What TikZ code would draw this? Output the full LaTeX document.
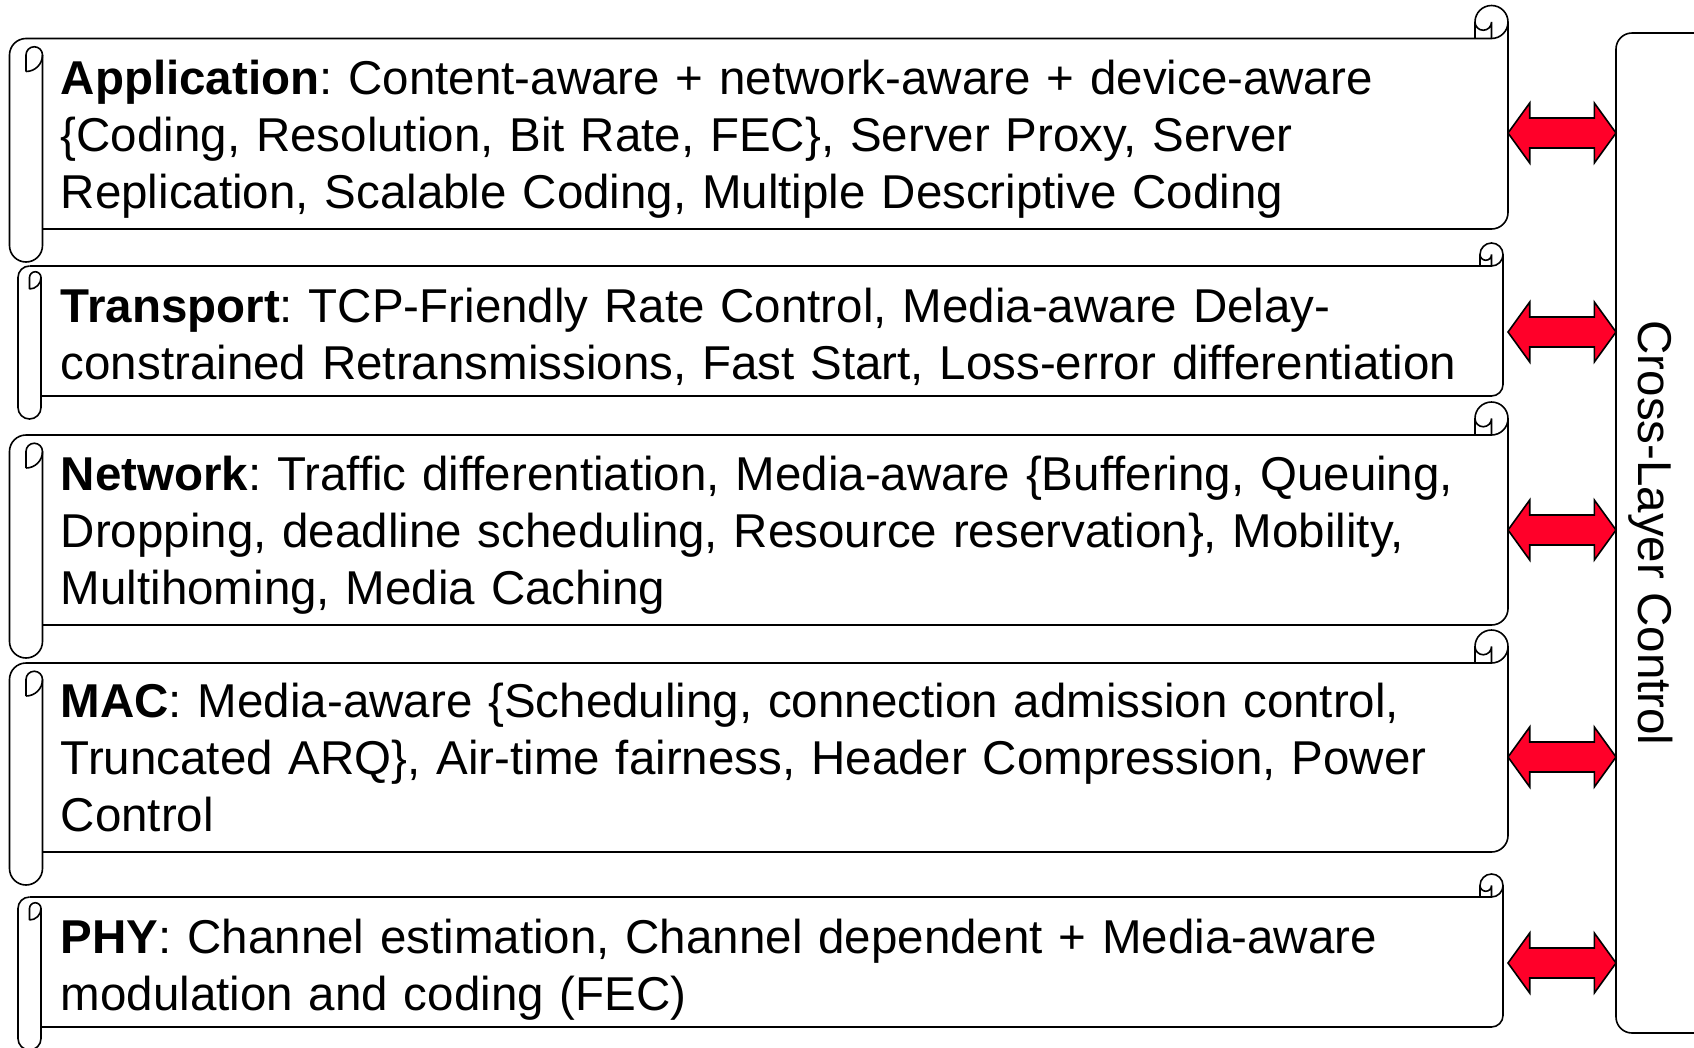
\documentclass[tikz,border=0pt]{standalone}
\usepackage{fontspec}
\setmainfont{Liberation Sans}
\usetikzlibrary{calc}

\definecolor{arrowred}{RGB}{255,0,41}

% scroll shape: left x, top y, right x, bottom y, roll width
\newcommand{\layerscroll}[5]{%
  \pgfmathsetmacro{\scrh}{#5/2}
  \pgfmathsetmacro{\scrq}{#5/4}
  %Shape: body with top right curl
  \draw ({#1+#5},#4) -- ({#3-\scrh},#4) arc[start angle=90,end angle=0,radius=\scrh] -- (#3,{#2-\scrh}) arc[start angle=0,end angle=-180,radius=\scrh] -- ({#3-#5},#2) ;
  \draw ({#1+\scrh},#2) -- ({#3-\scrh},#2) arc[start angle=90,end angle=0,radius=\scrh] ;
  \draw ({#3-#5},{#2-\scrh}) arc[start angle=180,end angle=0,radius=\scrq] -- ({#3-\scrh},#2) ;
  %Shape: left roll
  \draw ({#1+\scrh},#2) arc[start angle=-90,end angle=-180,radius=\scrh] -- (#1,{#4+\scrh}) arc[start angle=180,end angle=0,radius=\scrh] -- ({#1+#5},{#2+\scrh}) ;
  \draw ({#1+\scrh},{#2+#5}) -- ({#1+\scrh},{#2+\scrh}) arc[start angle=180,end angle=360,radius=\scrq] arc[start angle=0,end angle=90,radius=\scrh] ;
}

\tikzset{
  layertext/.style={anchor=base west, inner sep=0pt, text width=1500pt, align=left, font=\fontsize{47.5}{57}\selectfont\frenchspacing},
  dblarrow/.style={draw=black, line width=1.6, fill=arrowred, line join=miter},
}

\begin{document}
\begin{tikzpicture}[x=1pt,y=1pt,yscale=-1,xscale=1,line width=1.6]
\useasboundingbox (0,0) rectangle (1694,1047);

% Scrolls
\layerscroll{9.5}{38.5}{1508}{229}{33}
\layerscroll{18}{266}{1503}{396}{23}
\layerscroll{9.5}{435}{1508}{625}{33}
\layerscroll{9.5}{663}{1508}{852}{33}
\layerscroll{18}{897}{1503}{1027}{23}

% Text Node
\node[layertext] (app) at (60,94) {\textbf{Application}: Content-aware + network-aware + device-aware\\\{Coding, Resolution, Bit Rate, FEC\}, Server Proxy, Server\\Replication, Scalable Coding, Multiple Descriptive Coding};
% Text Node
\node[layertext] (tra) at (60,322) {\textbf{Transport}: TCP-Friendly Rate Control, Media-aware Delay-\\constrained Retransmissions, Fast Start, Loss-error differentiation};
% Text Node
\node[layertext] (net) at (60,490) {\textbf{Network}: Traffic differentiation, Media-aware \{Buffering, Queuing,\\Dropping, deadline scheduling, Resource reservation\}, Mobility,\\Multihoming, Media Caching};
% Text Node
\node[layertext] (mac) at (60,717) {\textbf{MAC}: Media-aware \{Scheduling, connection admission control,\\Truncated ARQ\}, Air-time fairness, Header Compression, Power\\Control};
% Text Node
\node[layertext] (phy) at (60,953) {\textbf{PHY}: Channel estimation, Channel dependent + Media-aware\\modulation and coding (FEC)};

%Shape: Rounded Rect
\node[draw, line width=1.6, rounded corners=16, minimum width=114, minimum height=1000, inner sep=0, outer sep=0] (clc) at (1673,533) {};
% Text Node
\node[anchor=base, inner sep=0pt, rotate=-90, font=\fontsize{47.5}{57}\selectfont] (cltext) at (1638,533) {Cross-Layer Control};

% Double arrows
\coordinate (a1) at (1508,133);
\coordinate (a2) at (1508,332);
\coordinate (a3) at (1508,530);
\coordinate (a4) at (1508,757);
\coordinate (a5) at (1508,963);
\draw[dblarrow] (a1) -- ++(21.7,-30) -- ++(0,15) -- ++(64.6,0) -- ++(0,-15) -- (clc.west |- a1) -- ++(-21.7,30) -- ++(0,-15) -- ++(-64.6,0) -- ++(0,15) -- cycle ;
\draw[dblarrow] (a2) -- ++(21.7,-30) -- ++(0,15) -- ++(64.6,0) -- ++(0,-15) -- (clc.west |- a2) -- ++(-21.7,30) -- ++(0,-15) -- ++(-64.6,0) -- ++(0,15) -- cycle ;
\draw[dblarrow] (a3) -- ++(21.7,-30) -- ++(0,15) -- ++(64.6,0) -- ++(0,-15) -- (clc.west |- a3) -- ++(-21.7,30) -- ++(0,-15) -- ++(-64.6,0) -- ++(0,15) -- cycle ;
\draw[dblarrow] (a4) -- ++(21.7,-30) -- ++(0,15) -- ++(64.6,0) -- ++(0,-15) -- (clc.west |- a4) -- ++(-21.7,30) -- ++(0,-15) -- ++(-64.6,0) -- ++(0,15) -- cycle ;
\draw[dblarrow] (a5) -- ++(21.7,-30) -- ++(0,15) -- ++(64.6,0) -- ++(0,-15) -- (clc.west |- a5) -- ++(-21.7,30) -- ++(0,-15) -- ++(-64.6,0) -- ++(0,15) -- cycle ;

\end{tikzpicture}
\end{document}
